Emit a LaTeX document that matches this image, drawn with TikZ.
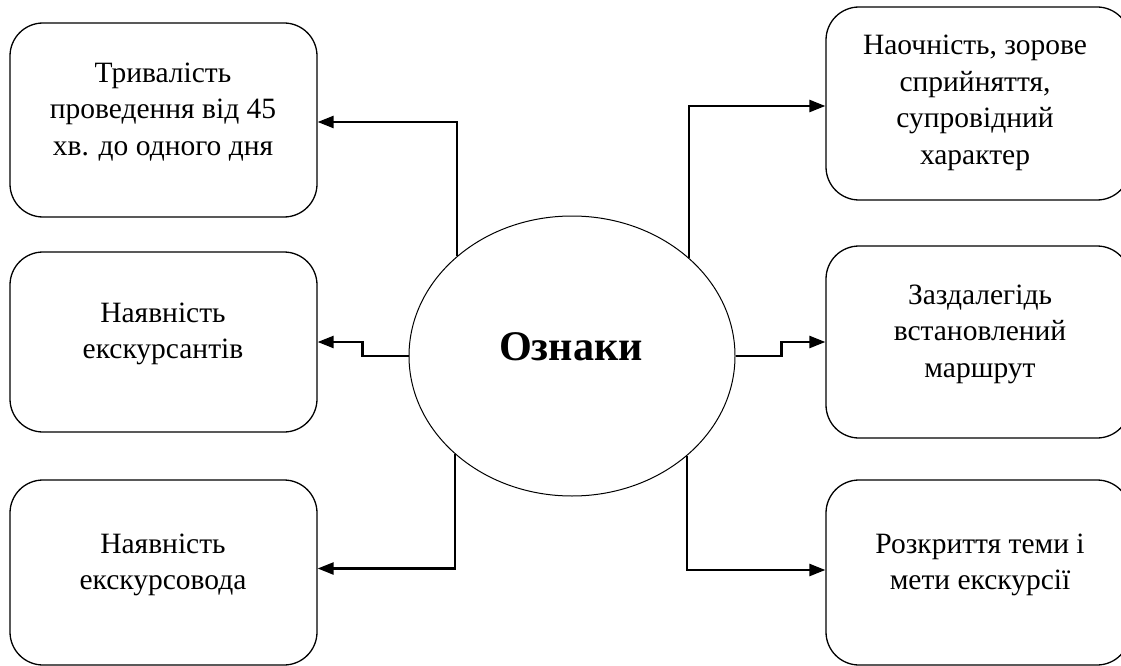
\documentclass[tikz,border=0pt]{standalone}
\usepackage{fontspec}
\setmainfont{Liberation Serif}
\usetikzlibrary{shapes.geometric,arrows.meta}
\begin{document}
\begin{tikzpicture}[x=1pt,y=-1pt,
  box/.style={draw,line width=1.3pt,rounded corners=33pt,rectangle,inner sep=0pt,minimum width=307pt},
  lbl/.style={align=center,font=\fontsize{29.5}{36.5}\selectfont,inner sep=0pt},
  conn/.style={line width=2.5pt,-{Triangle[length=16pt,width=12pt]}}]
\path[use as bounding box] (0,0) rectangle (1121,666);
\clip (0,0) rectangle (1121,666);
% left boxes
\node[box,minimum height=194pt] (L1) at (163.5,120) {};
\node[box,minimum height=180pt] (L2) at (163.5,342) {};
\node[box,minimum height=185pt] (L3) at (163.5,572.5) {};
% right boxes
\node[box,minimum width=304pt,minimum height=193pt] (R1) at (978,103.5) {};
\node[box,minimum width=304pt,minimum height=192pt] (R2) at (978,342) {};
\node[box,minimum width=304pt,minimum height=185pt] (R3) at (978,572.5) {};
% labels
\node[lbl] (tL1) at (163,111.7) {Тривалість\\проведення від 45\\хв. до одного дня};
\node[lbl] (tL2) at (163,333.7) {Наявність\\екскурсантів};
\node[lbl] (tL3) at (163,564.7) {Наявність\\екскурсовода};
\node[lbl] (tR1) at (975,103) {Наочність, зорове\\сприйняття,\\супровідний\\характер};
\node[lbl] (tR2) at (980,334) {Заздалегідь\\встановлений\\маршрут};
\node[lbl] (tR3) at (980,564.7) {Розкриття теми і\\мети екскурсії};
% ellipse
\node[draw,ellipse,line width=1pt,minimum width=326pt,minimum height=280pt,inner sep=0pt] (oz) at (572,356) {};
\node[font=\fontsize{42.2}{48}\selectfont\bfseries,anchor=base,inner sep=0pt] (ozt) at (571,360) {Ознаки};
% connectors
\draw[conn] (oz.139.8) |- ([yshift=-2pt]L1.east);
\draw[conn] (oz.west) -- ++(-46,0) |- (L2.east);
\draw[conn] (oz.220.2) |- ([yshift=4pt]L3.east);
\draw[conn] (oz.40.2) |- ([yshift=-2.5pt]R1.west);
\draw[conn] (oz.east) -- ++(46,0) |- (R2.west);
\draw[conn] (oz.319.8) |- ([yshift=2.5pt]R3.west);
\end{tikzpicture}
\end{document}
